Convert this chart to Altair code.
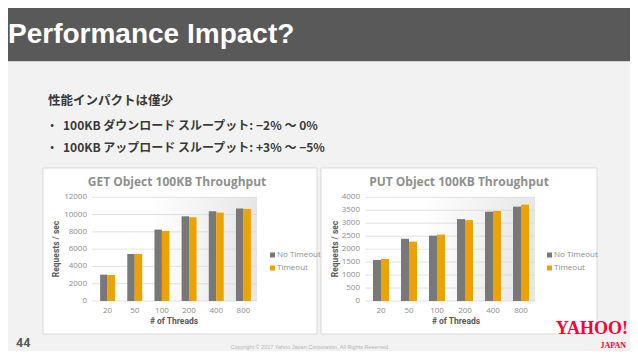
import altair as alt
import pandas as pd

# ---------------- data ----------------
threads = ["20", "50", "100", "200", "400", "800"]
series = ["No Timeout", "Timeout"]
get_no_timeout = [3050, 5440, 8260, 9800, 10380, 10690]
get_timeout = [3010, 5440, 8110, 9690, 10230, 10650]
put_no_timeout = [1580, 2400, 2520, 3160, 3445, 3640]
put_timeout = [1620, 2290, 2560, 3120, 3470, 3715]
get_ticks = [0, 2000, 4000, 6000, 8000, 10000, 12000]
put_ticks = [0, 500, 1000, 1500, 2000, 2500, 3000, 3500, 4000]
colors = ["#787878", "#eba300"]

slide_title = "Performance Impact?"
heading = "性能インパクトは僅少"
bullets = ["100KB ダウンロード スループット: −2% 〜 0%",
           "100KB アップロード スループット: +3% 〜 −5%"]
get_title = "GET Object 100KB Throughput"
put_title = "PUT Object 100KB Throughput"

# ---------------- layout ----------------
W, H = 622, 343
M = 8
def p(v):
    return v - M

TXT_GRAY = "#8c8c8c"
DARK = "#595959"
BOLD_FONT = "Liberation Sans Narrow, Roboto, Liberation Sans"
CJK = "Noto Sans CJK JP"

one = pd.DataFrame({"a": [0]})

def rect(x, x2, y, y2, **kw):
    return alt.Chart(one).mark_rect(**kw).encode(
        x=alt.value(x), x2=alt.value(x2), y=alt.value(y), y2=alt.value(y2))

def text(t, x, y, **kw):
    return alt.Chart(one).mark_text(text=t, **kw).encode(x=alt.value(x), y=alt.value(y))

def make_df(a, b):
    rows = []
    for i, t in enumerate(threads):
        rows.append({"threads": t, "series": series[0], "value": a[i]})
        rows.append({"threads": t, "series": series[1], "value": b[i]})
    return pd.DataFrame(rows)

Y0, Y1 = p(301), p(197.3)

def panel(df, title, ticks, ymax, xr, pad, box, title_x, ytitle_x, legend_x):
    xs = alt.Scale(range=xr, paddingInner=pad, paddingOuter=pad / 2)
    ys = alt.Scale(domain=[0, ymax], range=[Y0, Y1], nice=False, zero=True)
    tdf = pd.DataFrame({"t": ticks})
    layers = []
    # chart box
    layers.append(rect(box[0], box[1], p(168), p(334), fill="white", stroke="#d9d9d9", strokeWidth=1))
    # plot background gradient
    grad = alt.LinearGradient(
        gradient="linear", x1=0, x2=1, y1=0, y2=0,
        stops=[alt.GradientStop(offset=0, color="#ffffff"),
               alt.GradientStop(offset=0.35, color="#ffffff"),
               alt.GradientStop(offset=1, color="#e6e6e6")])
    layers.append(rect(xr[0] - 2, xr[1], Y1, Y0, color=grad))
    # gridlines
    layers.append(alt.Chart(tdf).mark_rule(color="#d9d9d9", strokeWidth=0.8).encode(
        y=alt.Y("t:Q", scale=ys, axis=None),
        x=alt.value(xr[0] - 2), x2=alt.value(xr[1])))
    # y labels
    layers.append(alt.Chart(tdf).mark_text(align="right", baseline="middle", fontSize=8,
                                           color=TXT_GRAY, font="Open Sans").encode(
        y=alt.Y("t:Q", scale=ys, axis=None),
        x=alt.value(xr[0] - 7),
        text=alt.Text("t:Q", format="d")))
    # bars
    layers.append(alt.Chart(df).mark_bar().encode(
        x=alt.X("threads:N", sort=threads, scale=xs, axis=None),
        xOffset=alt.XOffset("series:N", sort=series,
                            scale=alt.Scale(paddingInner=0, paddingOuter=0)),
        y=alt.Y("value:Q", scale=ys, axis=None),
        color=alt.Color("series:N", scale=alt.Scale(domain=series, range=colors), legend=None)))
    # x labels
    layers.append(alt.Chart(pd.DataFrame({"threads": threads})).mark_text(
        baseline="middle", fontSize=8, color=TXT_GRAY, font="Open Sans").encode(
        x=alt.X("threads:N", sort=threads, scale=xs, axis=None),
        y=alt.value(p(311)),
        text="threads:N"))
    # titles
    layers.append(text(title, title_x, p(182), fontSize=12, fontWeight="bold",
                       color="#8f8f8f", font="Open Sans", baseline="middle"))
    layers.append(text("# of Threads", title_x - 3, p(321), fontSize=8.5, fontWeight="bold",
                       color=DARK, font=BOLD_FONT, baseline="middle"))
    layers.append(text("Requests / sec", ytitle_x, p(249), fontSize=8.5, fontWeight="bold",
                       color=DARK, font=BOLD_FONT, baseline="middle", angle=270))
    # legend
    for i, s in enumerate(series):
        yy = p(255 + 13 * i)
        layers.append(rect(legend_x, legend_x + 5, yy - 2.5, yy + 2.5, color=colors[i]))
        layers.append(text(s, legend_x + 7, yy, fontSize=8, color=TXT_GRAY, font="Open Sans",
                           align="left", baseline="middle"))
    return layers

get_df = make_df(get_no_timeout, get_timeout)
put_df = make_df(put_no_timeout, put_timeout)

layers = []
# header
layers.append(rect(0, W, 0, p(61), color="#595959"))
layers.append(rect(0, W, p(61), p(62), color="#cfcfcf"))
layers.append(text(slide_title, 0, p(43), fontSize=28, fontWeight="bold", color="white",
                   font="Liberation Sans", align="left", baseline="alphabetic"))
# bullets
layers.append(text(heading, p(48), p(101), fontSize=12.5, fontWeight="bold", color="#3a3a3a",
                   font=CJK, align="left", baseline="middle"))
for i, b in enumerate(bullets):
    yy = p(126 + 22 * i)
    layers.append(text("•", p(52), yy, fontSize=11, color="#3a3a3a", font=CJK,
                       align="center", baseline="middle"))
    layers.append(text(b, p(63), yy, fontSize=12, fontWeight="bold", color="#3a3a3a",
                       font=CJK, align="left", baseline="middle"))

layers += panel(get_df, get_title, get_ticks, 12000, [p(94), p(257)], 0.45, (p(43), p(317)),
                p(177), p(56), p(270))
layers += panel(put_df, put_title, put_ticks, 4000, [p(367), p(535)], 0.43, (p(321), p(597)),
                p(459), p(335), p(547))

# footer
layers.append(text("44", p(16), p(343), fontSize=12.5, fontWeight="bold", color=DARK,
                   font=BOLD_FONT, align="left", baseline="middle"))
layers.append(text("Copyright © 2017  Yahoo Japan Corporation. All Rights Reserved.", p(310), p(347),
                   fontSize=5.5, color="#b5b5b5", font="Liberation Sans", align="center",
                   baseline="middle"))
layers.append(text("YAHOO!", W - 2, p(334), fontSize=18, fontWeight="bold", color="#ff0033",
                   font="Liberation Serif", align="right", baseline="alphabetic"))
layers.append(text("JAPAN", W - 4, p(348), fontSize=8, fontWeight="bold", color="#ff0033",
                   font="Liberation Serif", align="right", baseline="alphabetic"))

chart = alt.layer(*layers).resolve_scale(
    x="independent", y="independent", xOffset="independent"
).properties(
    width=W, height=H, padding=0,
    autosize=alt.AutoSizeParams(type="none"),
    background="#f2f2f2",
).configure_view(stroke=None)

chart.save("out.html", embed_options={"renderer": "svg", "actions": False})
